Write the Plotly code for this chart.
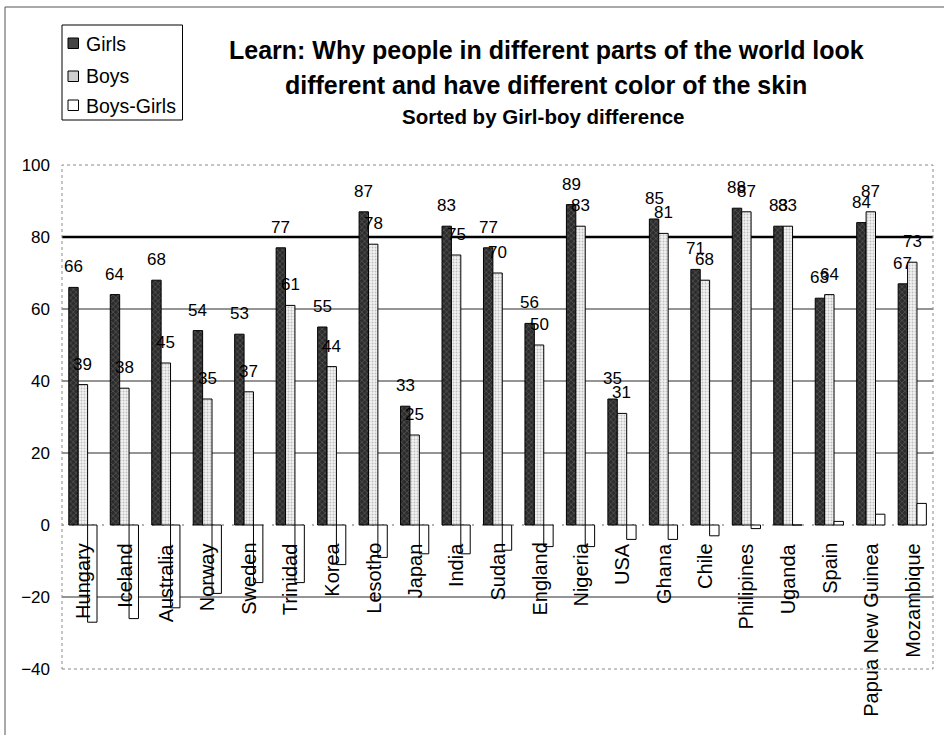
import plotly.graph_objects as go

# --- data -------------------------------------------------------------
countries = ["Hungary", "Iceland", "Australia", "Norway", "Sweden", "Trinidad",
             "Korea", "Lesotho", "Japan", "India", "Sudan", "England", "Nigeria",
             "USA", "Ghana", "Chile", "Philipines", "Uganda", "Spain",
             "Papua New Guinea", "Mozambique"]
girls = [66, 64, 68, 54, 53, 77, 55, 87, 33, 83, 77, 56, 89, 35, 85, 71, 88, 83, 63, 84, 67]
boys = [39, 38, 45, 35, 37, 61, 44, 78, 25, 75, 70, 50, 83, 31, 81, 68, 87, 83, 64, 87, 73]
boys_minus_girls = [-27, -26, -23, -19, -16, -16, -11, -9, -8, -8, -7, -6, -6, -4, -4,
                    -3, -1, 0, 1, 3, 6]
y_ticks = [-40, -20, 0, 20, 40, 60, 80, 100]
grid_values = [-20, 20, 40, 60]
heavy_grid = 80

title_lines = ["Learn: Why people in different parts of the world look",
               "different and have different color of the skin"]
subtitle = "Sorted by Girl-boy difference"
legend_names = ["Girls", "Boys", "Boys-Girls"]

# --- page geometry ----------------------------------------------------
W, H = 944, 735
L, R, T, B = 62, 11, 165, 66
PW, PH = W - L - R, H - T - B
FONT = "Arial, Liberation Sans, sans-serif"


def px(x):
    return (x - L) / PW


def py(y):
    return (H - B - y) / PH


fig = go.Figure()

girls_marker = dict(color="#3a3a3a", line=dict(color="black", width=1),
                    pattern=dict(shape="x", fgcolor="#8a8a8a", bgcolor="#2c2c2c",
                                 size=4, solidity=0.3))
boys_marker = dict(color="#d4d4d4", line=dict(color="black", width=1),
                   pattern=dict(shape=".", fgcolor="#8c8c8c", bgcolor="#f2f2f2",
                                size=3, solidity=0.35))
diff_marker = dict(color="white", line=dict(color="black", width=1))

fig.add_trace(go.Bar(x=countries, y=girls, name=legend_names[0], marker=girls_marker))
fig.add_trace(go.Bar(x=countries, y=boys, name=legend_names[1], marker=boys_marker))
fig.add_trace(go.Bar(x=countries, y=boys_minus_girls, name=legend_names[2],
                     marker=diff_marker))

shapes = []
# gridlines (beneath the bars)
for g in grid_values:
    shapes.append(dict(type="line", xref="paper", yref="y", x0=0, x1=1, y0=g, y1=g,
                       line=dict(color="#2a2a2a", width=1), layer="below"))
shapes.append(dict(type="line", xref="paper", yref="y", x0=0, x1=1,
                   y0=heavy_grid, y1=heavy_grid,
                   line=dict(color="black", width=2.5), layer="below"))
# category axis at zero
shapes.append(dict(type="line", xref="paper", yref="y", x0=0, x1=1, y0=0, y1=0,
                   line=dict(color="#666", width=1, dash="2px,8px"), layer="below"))
# plot-area frame
shapes.append(dict(type="rect", xref="paper", yref="paper", x0=0, x1=1, y0=0, y1=1,
                   line=dict(color="#8a8a8a", width=1, dash="dot"), layer="below"))
# chart-area frame
shapes.append(dict(type="rect", xref="paper", yref="paper",
                   x0=px(5), x1=px(962), y0=py(760), y1=py(7),
                   line=dict(color="#555", width=1)))

# legend box with swatches
shapes.append(dict(type="rect", xref="paper", yref="paper",
                   x0=px(62), x1=px(182.5), y0=py(120), y1=py(25),
                   line=dict(color="black", width=1), fillcolor="white"))
swatch_fill = ["#444444", "#cfcfcf", "white"]
swatch_top = [38, 71, 100]
legend_text_y = [44, 76, 106]
for fill, top in zip(swatch_fill, swatch_top):
    shapes.append(dict(type="rect", xref="paper", yref="paper",
                       x0=px(68), x1=px(78.5), y0=py(top + 10.5), y1=py(top),
                       line=dict(color="black", width=1), fillcolor=fill))

annotations = []
for name, ty in zip(legend_names, legend_text_y):
    annotations.append(dict(text=name, xref="paper", yref="paper", x=px(84),
                            y=py(ty), xanchor="left", yanchor="middle",
                            showarrow=False, font=dict(family=FONT, size=19.5,
                                                       color="black")))

# title block
for line, ty in zip(title_lines, [50, 85]):
    annotations.append(dict(text="<b>%s</b>" % line, xref="paper", yref="paper",
                            x=px(546), y=py(ty), xanchor="center", yanchor="middle",
                            showarrow=False,
                            font=dict(family=FONT, size=25, color="black")))
annotations.append(dict(text="<b>%s</b>" % subtitle, xref="paper", yref="paper",
                        x=px(543), y=py(117), xanchor="center", yanchor="middle",
                        showarrow=False, font=dict(family=FONT, size=20.5, color="black")))

# value labels above the Girls and Boys bars
bar_step = 9.4
for c, g, b in zip(countries, girls, boys):
    annotations.append(dict(text=str(g), x=c, y=g, xref="x", yref="y",
                            xshift=-bar_step, yshift=9, yanchor="bottom",
                            xanchor="center", showarrow=False,
                            font=dict(family=FONT, size=17, color="black")))
    annotations.append(dict(text=str(b), x=c, y=b, xref="x", yref="y",
                            xshift=0, yshift=9, yanchor="bottom",
                            xanchor="center", showarrow=False,
                            font=dict(family=FONT, size=17, color="black")))

# country names hanging below the zero line
for c in countries:
    annotations.append(dict(text=c, x=c, y=0, xref="x", yref="y", textangle=-90,
                            yanchor="top", xanchor="center", yshift=-16,
                            showarrow=False,
                            font=dict(family=FONT, size=20, color="black")))

fig.update_layout(
    width=W, height=H,
    margin=dict(l=L, r=R, t=T, b=B, pad=0),
    paper_bgcolor="white", plot_bgcolor="white",
    barmode="group", bargap=0.32, bargroupgap=0,
    showlegend=False,
    shapes=shapes, annotations=annotations,
    font=dict(family=FONT, color="black"),
)
fig.update_xaxes(showticklabels=False, showgrid=False, zeroline=False,
                 showline=False, ticks="")
fig.update_yaxes(range=[-40, 100], tickvals=y_ticks, showgrid=False, zeroline=False,
                 showline=False, ticks="", ticklabelstandoff=11,
                 tickfont=dict(family=FONT, size=17, color="black"))

fig.write_html("out.html")
